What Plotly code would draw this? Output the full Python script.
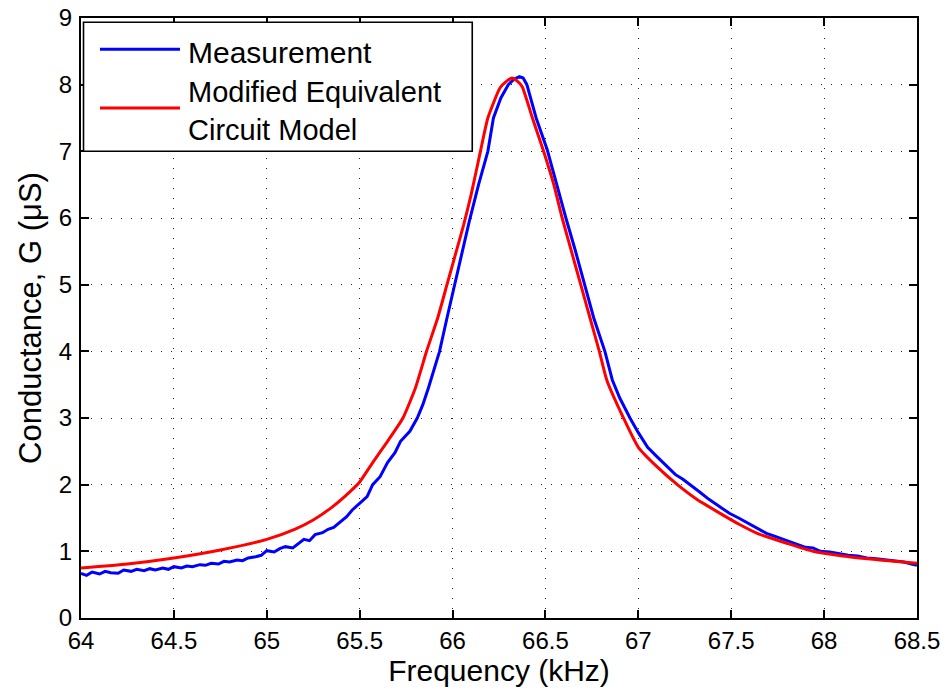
import plotly.graph_objects as go

# Measurement (blue)
meas_f = [64.0, 64.03, 64.06, 64.1, 64.13, 64.16, 64.2, 64.23, 64.27, 64.3, 64.34, 64.37,
          64.4, 64.44, 64.47, 64.5, 64.54, 64.57, 64.6, 64.64, 64.67, 64.7, 64.74, 64.77,
          64.8, 64.84, 64.87, 64.9, 64.94, 64.97, 65.0, 65.04, 65.07, 65.1, 65.14, 65.17,
          65.2, 65.23, 65.26, 65.3, 65.33, 65.36, 65.4, 65.43, 65.46, 65.5, 65.54, 65.57,
          65.61, 65.65, 65.69, 65.72, 65.77, 65.81, 65.84, 65.87, 65.9, 65.93, 65.97,
          66.01, 66.05, 66.09, 66.14, 66.19, 66.22, 66.26, 66.3, 66.33, 66.36, 66.38,
          66.4, 66.45, 66.51, 66.56, 66.61, 66.66, 66.71, 66.76, 66.82, 66.86, 66.9,
          66.955, 67.0, 67.05, 67.1, 67.15, 67.2, 67.24, 67.28, 67.33, 67.38, 67.43,
          67.49, 67.54, 67.6, 67.65, 67.69, 67.74, 67.8, 67.85, 67.9, 67.94, 67.98,
          68.03, 68.08, 68.13, 68.18, 68.23, 68.28, 68.33, 68.38, 68.43, 68.47, 68.5]
meas_g = [0.67, 0.64, 0.69, 0.66, 0.70, 0.68, 0.67, 0.72, 0.70, 0.73, 0.71, 0.74,
          0.72, 0.75, 0.73, 0.77, 0.75, 0.78, 0.77, 0.80, 0.79, 0.82, 0.81, 0.85,
          0.84, 0.87, 0.86, 0.90, 0.92, 0.94, 1.01, 0.99, 1.04, 1.07, 1.05, 1.12,
          1.18, 1.16, 1.25, 1.28, 1.33, 1.36, 1.45, 1.52, 1.62, 1.72, 1.82, 2.0,
          2.12, 2.33, 2.48, 2.65, 2.80, 3.0, 3.2, 3.45, 3.72, 4.0, 4.5,
          5.0, 5.5, 5.95, 6.5, 7.0, 7.5, 7.8, 8.0, 8.08, 8.12, 8.10,
          8.0, 7.5, 7.02, 6.5, 6.0, 5.52, 5.0, 4.5, 4.0, 3.57, 3.3,
          3.0, 2.78, 2.56, 2.42, 2.28, 2.15, 2.08, 2.0, 1.89, 1.78, 1.69,
          1.57, 1.50, 1.41, 1.33, 1.27, 1.22, 1.16, 1.12, 1.06, 1.05, 1.0,
          0.99, 0.96, 0.94, 0.93, 0.90, 0.89, 0.87, 0.85, 0.84, 0.81, 0.79]

# Modified Equivalent Circuit Model (red)
model_f = [64.0, 64.25, 64.5, 64.75, 65.0, 65.15, 65.25, 65.35, 65.45, 65.5, 65.57,
           65.65, 65.733, 65.8, 65.86, 65.92, 65.97, 66.02, 66.06, 66.1, 66.15,
           66.19, 66.255, 66.29, 66.32, 66.35, 66.375, 66.43, 66.49, 66.545, 66.59,
           66.64, 66.69, 66.74, 66.79, 66.83, 66.92, 67.0, 67.1, 67.21, 67.32,
           67.44, 67.54, 67.64, 67.8, 67.94, 68.1, 68.3, 68.5]
model_g = [0.75, 0.81, 0.90, 1.02, 1.18, 1.33, 1.47, 1.66, 1.90, 2.04, 2.33,
           2.65, 3.0, 3.45, 4.0, 4.5, 5.0, 5.5, 5.9, 6.35, 7.0,
           7.5, 7.95, 8.05, 8.10, 8.05, 7.97, 7.5, 7.0, 6.5, 6.0,
           5.5, 5.0, 4.5, 4.0, 3.57, 3.0, 2.56, 2.27, 2.0, 1.77,
           1.57, 1.41, 1.27, 1.12, 1.0, 0.93, 0.87, 0.82]

x_ticks = [64, 64.5, 65, 65.5, 66, 66.5, 67, 67.5, 68, 68.5]
x_tick_labels = ["64", "64.5", "65", "65.5", "66", "66.5", "67", "67.5", "68", "68.5"]
y_ticks = list(range(0, 10))
y_tick_labels = [str(v) for v in y_ticks]

FONT = "Liberation Sans, Arial, sans-serif"

fig = go.Figure()
fig.add_trace(go.Scatter(x=meas_f, y=meas_g, mode="lines", name="Measurement",
                         line=dict(color="#0000FF", width=3), showlegend=False))
fig.add_trace(go.Scatter(x=model_f, y=model_g, mode="lines",
                         name="Modified Equivalent Circuit Model",
                         line=dict(color="#FF0000", width=3, shape="spline", smoothing=0.5),
                         showlegend=False))

axis_common = dict(showline=True, linecolor="black", linewidth=2, mirror="ticks",
                   ticks="inside", ticklen=8, tickwidth=1.5, tickcolor="black",
                   showgrid=True, gridcolor="#222222", gridwidth=1.3, griddash="1.3px,8.7px",
                   zeroline=False, automargin=False, ticklabeloverflow="allow",
                   tickfont=dict(family=FONT, size=24, color="black"))

fig.update_xaxes(range=[64, 68.5], tickvals=x_ticks, ticktext=x_tick_labels,
                 title=dict(text="Frequency (kHz)", font=dict(family=FONT, size=30, color="black"),
                            standoff=6),
                 ticklabelstandoff=0, **axis_common)
fig.update_yaxes(range=[0, 9], tickvals=y_ticks, ticktext=y_tick_labels,
                 title=dict(text="Conductance, G (\u03bcS)", font=dict(family=FONT, size=31, color="black"),
                            standoff=8),
                 ticklabelstandoff=2, **axis_common)

# Legend box drawn manually (MATLAB style)
shapes = [
    dict(type="rect", xref="paper", yref="paper", x0=0.003, x1=0.468, y0=0.778, y1=0.993,
         line=dict(color="black", width=1.6), fillcolor="white", layer="above"),
    dict(type="line", xref="paper", yref="paper", x0=0.0227, x1=0.1184, y0=0.948, y1=0.948,
         line=dict(color="#0000FF", width=3), layer="above"),
    dict(type="line", xref="paper", yref="paper", x0=0.0227, x1=0.1184, y0=0.850, y1=0.850,
         line=dict(color="#FF0000", width=3), layer="above"),
]
annotations = [
    dict(xref="paper", yref="paper", x=0.126, y=0.943, xanchor="left", yanchor="middle",
         text="Measurement", showarrow=False, align="left",
         font=dict(family=FONT, size=30, color="black")),
    dict(xref="paper", yref="paper", x=0.126, y=0.845, xanchor="left", yanchor="middle",
         text="Modified Equivalent<br>Circuit Model", showarrow=False, align="left",
         font=dict(family=FONT, size=29, color="black")),
]

fig.update_layout(width=948, height=700, autosize=False,
                  margin=dict(l=81, r=31, t=18, b=82),
                  paper_bgcolor="white", plot_bgcolor="white",
                  shapes=shapes, annotations=annotations, showlegend=False)

# remove the default 8px page margin so the figure fills the window exactly
fig.write_html("out.html", config={"displayModeBar": False},
               post_script="document.body.style.margin='0px';document.body.style.overflow='hidden';")
